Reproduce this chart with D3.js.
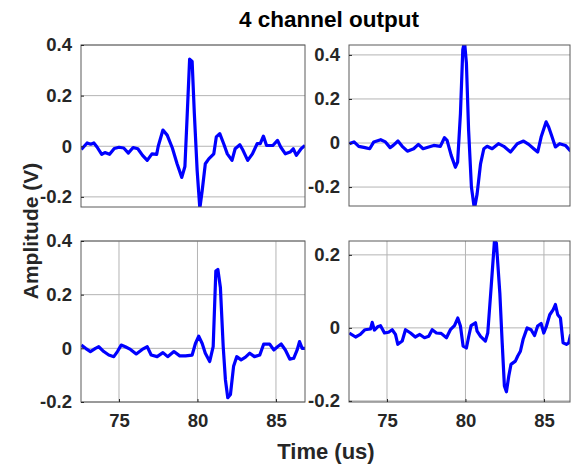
<!DOCTYPE html>
<html>
<head>
<meta charset="utf-8">
<script src="https://cdn.jsdelivr.net/npm/d3@7"></script>
<style>
  body { margin: 0; background: #fff; }
  svg { display: block; }
  text { font-family: "Liberation Sans", Arial, sans-serif; font-weight: bold; }
</style>
</head>
<body>
<div id="chart"></div>
<script>
// channel 1 (top left)
const ch1Time = [72.6, 72.97, 73.2, 73.4, 73.6, 73.9, 74.1, 74.4, 74.7, 75.0, 75.3, 75.6, 75.9, 76.2, 76.5, 76.8, 77.1, 77.4, 77.5, 77.8, 78.07, 78.4, 78.7, 79.0, 79.2, 79.35, 79.5, 79.66, 79.8, 79.98, 80.15, 80.3, 80.5, 80.72, 81.04, 81.2, 81.42, 81.67, 81.9, 82.2, 82.4, 82.7, 82.9, 83.2, 83.5, 83.8, 84.0, 84.2, 84.4, 84.8, 85.1, 85.3, 85.6, 85.9, 86.1, 86.3, 86.6, 86.85];
const ch1Amp = [-0.013, 0.013, 0.008, 0.013, -0.003, -0.032, -0.025, -0.032, -0.009, -0.004, -0.007, -0.027, -0.005, -0.01, -0.036, -0.056, -0.03, -0.032, 0.0, 0.064, 0.044, -0.007, -0.069, -0.123, -0.08, 0.13, 0.344, 0.335, 0.13, -0.096, -0.245, -0.176, -0.069, -0.05, -0.03, 0.037, 0.05, 0.01, -0.03, -0.056, -0.01, 0.006, -0.016, -0.056, -0.03, 0.01, 0.01, 0.04, 0.003, 0.003, 0.023, -0.003, -0.03, -0.023, -0.01, -0.036, -0.01, 0.003];

// channel 2 (top right)
const ch2Time = [72.6, 72.9, 73.2, 73.6, 73.9, 74.16, 74.6, 74.9, 75.2, 75.4, 75.7, 75.97, 76.3, 76.7, 77.0, 77.3, 77.66, 77.98, 78.4, 78.66, 78.83, 79.09, 79.36, 79.5, 79.68, 79.83, 79.94, 80.06, 80.2, 80.38, 80.57, 80.74, 80.96, 81.17, 81.38, 81.7, 82.1, 82.44, 82.87, 83.3, 83.7, 84.03, 84.35, 84.6, 84.82, 85.14, 85.3, 85.52, 85.73, 86.0, 86.37, 86.7];
const ch2Amp = [-0.003, 0.005, -0.015, -0.021, -0.026, 0.005, 0.015, 0.005, -0.021, -0.011, 0.009, -0.015, -0.037, -0.026, -0.006, -0.026, -0.018, -0.011, -0.015, 0.024, 0.012, -0.056, -0.11, -0.087, 0.134, 0.424, 0.46, 0.363, 0.058, -0.2, -0.3, -0.232, -0.095, -0.026, -0.015, -0.026, -0.003, -0.015, -0.041, -0.003, 0.009, -0.006, -0.026, -0.041, 0.027, 0.096, 0.073, 0.027, -0.018, -0.003, -0.011, -0.037];

// channel 3 (bottom left)
const ch3Time = [72.6, 72.87, 73.18, 73.5, 73.71, 74.03, 74.35, 74.67, 74.9, 75.14, 75.4, 75.73, 76.1, 76.48, 76.8, 77.05, 77.43, 77.8, 78.1, 78.5, 78.87, 79.24, 79.66, 79.87, 80.08, 80.3, 80.5, 80.78, 81.0, 81.17, 81.3, 81.46, 81.64, 81.78, 81.93, 82.1, 82.3, 82.5, 82.78, 83.06, 83.33, 83.63, 83.97, 84.22, 84.6, 84.86, 85.1, 85.33, 85.6, 85.88, 86.13, 86.35, 86.5, 86.67, 86.9];
const ch3Amp = [0.012, 0, -0.012, 0, 0.006, -0.012, -0.025, -0.031, -0.012, 0.012, 0.006, -0.004, -0.021, -0.004, 0.006, -0.025, -0.031, -0.016, -0.031, -0.012, -0.028, -0.028, -0.025, 0.018, 0.045, 0.018, -0.018, -0.049, 0.006, 0.288, 0.294, 0.227, 0.006, -0.117, -0.184, -0.172, -0.067, -0.031, -0.043, -0.033, -0.018, -0.031, -0.025, 0.016, 0.016, -0.006, 0.006, 0.016, -0.006, -0.04, -0.037, -0.006, 0.025, 0, 0];

// channel 4 (bottom right)
const ch4Time = [72.6, 73.0, 73.3, 73.6, 73.95, 74.06, 74.2, 74.4, 74.59, 74.84, 75.1, 75.33, 75.54, 75.69, 75.97, 76.18, 76.5, 76.8, 77.09, 77.39, 77.66, 77.88, 78.15, 78.45, 78.79, 79.04, 79.3, 79.51, 79.68, 79.85, 80.06, 80.21, 80.36, 80.64, 80.74, 80.96, 81.27, 81.42, 81.64, 81.85, 81.97, 82.19, 82.34, 82.48, 82.61, 82.76, 82.9, 83.18, 83.33, 83.5, 83.67, 83.93, 84.18, 84.4, 84.6, 84.82, 84.99, 85.16, 85.37, 85.59, 85.73, 85.88, 86.05, 86.22, 86.43, 86.58, 86.7];
const ch4Amp = [-0.014, -0.025, -0.018, -0.005, -0.003, 0.015, -0.006, 0.003, 0.006, -0.014, -0.012, -0.005, -0.018, -0.045, -0.036, -0.005, -0.014, -0.025, -0.018, -0.027, -0.023, -0.005, -0.014, -0.015, -0.027, -0.005, 0.006, 0.027, 0.005, -0.05, -0.055, -0.023, 0.006, 0.014, -0.009, -0.023, -0.036, -0.014, 0.114, 0.24, 0.232, 0.095, -0.041, -0.159, -0.175, -0.132, -0.1, -0.091, -0.077, -0.064, -0.032, 0, -0.005, -0.021, 0.005, 0.012, -0.014, 0.005, 0.036, 0.05, 0.064, 0.036, 0.027, -0.041, -0.045, -0.041, -0.018];

const xTicks = [75, 80, 85];
const yTicksTop = [-0.2, 0, 0.2, 0.4];
const yTicksBR = [-0.2, 0, 0.2];

const title = "4 channel output";
const xLabel = "Time (us)";
const yLabel = "Amplitude (V)";

const width = 574, height = 467;
const ink = "#262626";

const panels = [
  { t: ch1Time, v: ch1Amp, x0: 81, x1: 305, y0: 45, y1: 207, xDom: [72.58, 86.85], yDom: [-0.24, 0.4], yTicks: yTicksTop, bottom: false },
  { t: ch2Time, v: ch2Amp, x0: 349, x1: 570, y0: 45, y1: 206, xDom: [72.58, 86.66], yDom: [-0.286, 0.445], yTicks: yTicksTop, bottom: false },
  { t: ch3Time, v: ch3Amp, x0: 81, x1: 305, y0: 241, y1: 402, xDom: [72.58, 86.85], yDom: [-0.2, 0.4], yTicks: yTicksTop, bottom: true },
  { t: ch4Time, v: ch4Amp, x0: 349, x1: 570, y0: 241, y1: 402, xDom: [72.58, 86.66], yDom: [-0.203, 0.238], yTicks: yTicksBR, bottom: true }
];

const svg = d3.select("#chart").append("svg")
  .attr("width", width)
  .attr("height", height);

panels.forEach((p, i) => {
  const x = d3.scaleLinear().domain(p.xDom).range([p.x0, p.x1]);
  const y = d3.scaleLinear().domain(p.yDom).range([p.y1, p.y0]);
  const g = svg.append("g");

  // grid
  g.selectAll(".hgrid")
    .data(p.yTicks)
    .enter()
    .append("line")
    .attr("x1", p.x0).attr("x2", p.x1)
    .attr("y1", d => y(d)).attr("y2", d => y(d))
    .attr("stroke", "#b4b4b4")
    .attr("stroke-width", 1);

  if (p.bottom) {
    g.selectAll(".vgrid")
      .data(xTicks)
      .enter()
      .append("line")
      .attr("x1", d => x(d)).attr("x2", d => x(d))
      .attr("y1", p.y0).attr("y2", p.y1)
      .attr("stroke", "#b4b4b4")
      .attr("stroke-width", 1);
  }

  // trace
  const clipId = "clip" + i;
  svg.append("clipPath").attr("id", clipId)
    .append("rect")
    .attr("x", p.x0).attr("y", p.y0)
    .attr("width", p.x1 - p.x0).attr("height", p.y1 - p.y0);

  const line = d3.line()
    .x(d => x(d[0]))
    .y(d => y(d[1]));

  g.append("path")
    .datum(d3.zip(p.t, p.v))
    .attr("clip-path", `url(#${clipId})`)
    .attr("d", line)
    .attr("fill", "none")
    .attr("stroke", "#0000ff")
    .attr("stroke-width", 3.2)
    .attr("stroke-linejoin", "round");

  // box
  g.append("rect")
    .attr("x", p.x0).attr("y", p.y0)
    .attr("width", p.x1 - p.x0).attr("height", p.y1 - p.y0)
    .attr("fill", "none")
    .attr("stroke", "#5a5a5a")
    .attr("stroke-width", 1);

  // y axis
  const yAxis = d3.axisLeft(y)
    .tickValues(p.yTicks)
    .tickFormat(d => String(d))
    .tickSizeInner(-3)
    .tickSizeOuter(0)
    .tickPadding(9);
  const ya = g.append("g")
    .attr("transform", `translate(${p.x0},0)`)
    .call(yAxis);
  ya.select(".domain").remove();
  ya.selectAll("line").attr("stroke", ink);
  ya.selectAll("text")
    .attr("fill", ink)
    .style("font-size", "18.5px");

  if (p.bottom) {
    const xAxis = d3.axisBottom(x)
      .tickValues(xTicks)
      .tickFormat(d => String(d))
      .tickSizeInner(-3)
      .tickSizeOuter(0)
      .tickPadding(12);
    const xa = g.append("g")
      .attr("transform", `translate(0,${p.y1})`)
      .call(xAxis);
    xa.select(".domain").remove();
    xa.selectAll("line").attr("stroke", ink);
    xa.selectAll("text")
      .attr("fill", ink)
      .style("font-size", "18.5px");
  }
});

svg.append("text")
  .attr("x", 329)
  .attr("y", 27)
  .attr("text-anchor", "middle")
  .style("font-size", "22.5px")
  .attr("fill", "#000")
  .text(title);

svg.append("text")
  .attr("x", 326)
  .attr("y", 459)
  .attr("text-anchor", "middle")
  .style("font-size", "22px")
  .attr("fill", ink)
  .text(xLabel);

svg.append("text")
  .attr("transform", "translate(38,231) rotate(-90)")
  .attr("text-anchor", "middle")
  .style("font-size", "21px")
  .attr("fill", ink)
  .text(yLabel);
</script>
</body>
</html>
